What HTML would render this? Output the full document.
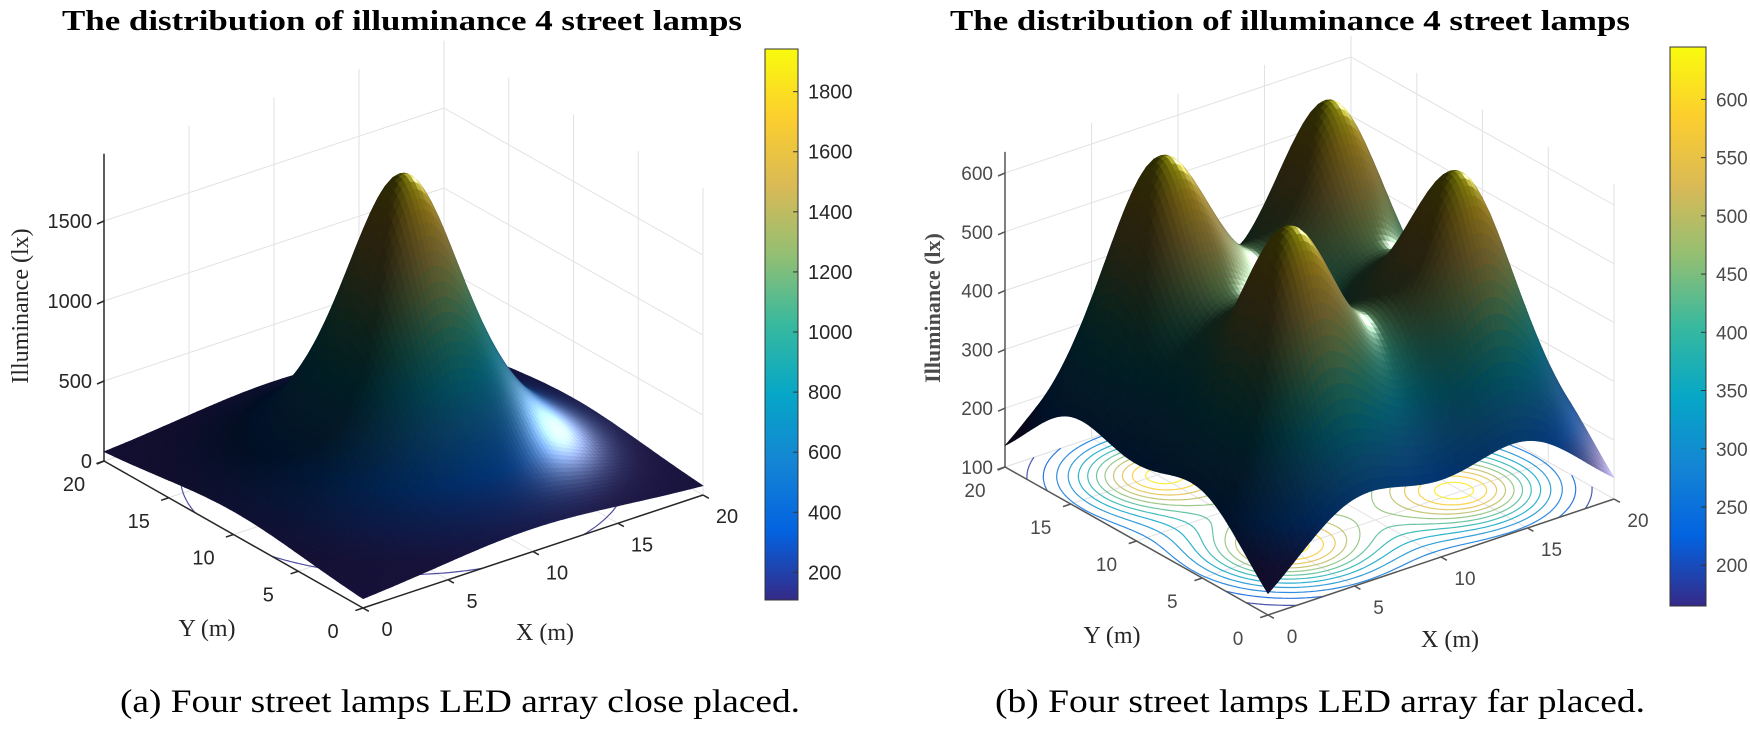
<!DOCTYPE html>
<html><head><meta charset="utf-8"><title>Illuminance distribution of 4 street lamps</title>
<style>
html,body{margin:0;padding:0;background:#fff;}
svg{display:block;}
.ttl{font-family:"Liberation Serif",serif;font-weight:bold;font-size:28px;fill:#000;}
.cap{font-family:"Liberation Serif",serif;font-size:33px;fill:#000;}
.tk{font-family:"Liberation Sans",sans-serif;font-size:20px;fill:#262626;}
.tk2{font-family:"Liberation Sans",sans-serif;font-size:19px;fill:#4a4a4a;}
.al{font-family:"Liberation Serif",serif;font-size:24px;fill:#262626;}
.al2{font-family:"Liberation Serif",serif;font-size:22px;font-weight:bold;fill:#4a4a4a;}
</style></head>
<body>
<svg id="fig" width="1750" height="732" viewBox="0 0 1750 732" xmlns="http://www.w3.org/2000/svg">
  <defs>
    <linearGradient id="parulaGrad" x1="0" y1="1" x2="0" y2="0">
      <stop offset="0" stop-color="#352A87"/>
      <stop offset="0.125" stop-color="#0363E1"/>
      <stop offset="0.25" stop-color="#1485D4"/>
      <stop offset="0.375" stop-color="#06A7C6"/>
      <stop offset="0.5" stop-color="#38B99E"/>
      <stop offset="0.625" stop-color="#92BF73"/>
      <stop offset="0.75" stop-color="#D9BA56"/>
      <stop offset="0.875" stop-color="#FCCE2E"/>
      <stop offset="1" stop-color="#F9FB0E"/>
    </linearGradient>
  </defs>
  <g id="chartA"></g>
  <g id="chartB"></g>
  <text class="ttl" x="62" y="30" textLength="680" lengthAdjust="spacingAndGlyphs">The distribution of illuminance 4 street lamps</text>
  <text class="ttl" x="950" y="30" textLength="680" lengthAdjust="spacingAndGlyphs">The distribution of illuminance 4 street lamps</text>
  <text class="cap" x="120" y="712" textLength="680" lengthAdjust="spacingAndGlyphs">(a) Four street lamps LED array close placed.</text>
  <text class="cap" x="995" y="712" textLength="650" lengthAdjust="spacingAndGlyphs">(b) Four street lamps LED array far placed.</text>
</svg>
<script>
// ---- data: left chart (close placed) ----
const leftLampX = [9.25, 10.75, 9.25, 10.75];
const leftLampY = [9.25, 9.25, 10.75, 10.75];
const leftLampPower = [515, 515, 515, 515];
const leftMountHeight = 4.5;
const leftZTicks = [0, 500, 1000, 1500];
const leftColorTicks = [200, 400, 600, 800, 1000, 1200, 1400, 1600, 1800];
const leftContourLevels = [130];
// ---- data: right chart (far placed) ----
const rightLampX = [5, 15, 5, 15];
const rightLampY = [5, 5, 15, 15];
const rightLampPower = [526, 526, 526, 526];
const rightMountHeight = 5;
const rightZTicks = [100, 200, 300, 400, 500, 600];
const rightColorTicks = [200, 250, 300, 350, 400, 450, 500, 550, 600];
const rightContourLevels = [180, 220, 260, 300, 340, 380, 420, 460, 500, 540, 580, 620];
// shared axes
const xyTicks = [0, 5, 10, 15, 20];

const NS = "http://www.w3.org/2000/svg";
const parulaStops = [[0,[53,42,135]],[0.125,[3,99,225]],[0.25,[20,133,212]],[0.375,[6,167,198]],[0.5,[56,185,158]],[0.625,[146,191,115]],[0.75,[217,186,86]],[0.875,[252,206,46]],[1,[249,251,14]]];
function parula(t){
  t = Math.max(0, Math.min(1, t));
  for (let i = 1; i < parulaStops.length; i++){
    if (t <= parulaStops[i][0]){
      const a = parulaStops[i-1], b = parulaStops[i];
      const f = (t - a[0]) / (b[0] - a[0]);
      return [0,1,2].map(k => a[1][k] + (b[1][k] - a[1][k]) * f);
    }
  }
  return parulaStops[parulaStops.length-1][1];
}
function mk(tag, parent){ const e = document.createElementNS(NS, tag); parent.appendChild(e); return e; }

function drawChart(cfg){
  const g = document.getElementById(cfg.gid);
  const P = (x, y, z) => [cfg.cx + x*cfg.ux[0] + y*cfg.uy[0], cfg.cy + x*cfg.ux[1] + y*cfg.uy[1] - (z - cfg.z0)*cfg.zpx];
  const illum = (x, y) => {
    let s = 0;
    for (let i = 0; i < cfg.lx.length; i++){
      const d2 = (x - cfg.lx[i])**2 + (y - cfg.ly[i])**2;
      s += cfg.lp[i] * Math.pow(cfg.h*cfg.h / (cfg.h*cfg.h + d2), 1.5);
    }
    return s;
  };
  const gridG = mk('g', g);
  
  
  const line = (a, b, col, w, name) => {
    const l = mk('line', gridG);
    
    
    l.setAttribute('x1', a[0]); l.setAttribute('y1', a[1]); l.setAttribute('x2', b[0]); l.setAttribute('y2', b[1]);
    l.setAttribute('stroke', col); l.setAttribute('stroke-width', w);
  };
  const gc = '#e2e2e2';
  xyTicks.forEach(t => {
    line(P(t,0,cfg.z0), P(t,20,cfg.z0), gc, 1, 'floor-grid-line');
    line(P(0,t,cfg.z0), P(20,t,cfg.z0), gc, 1, 'floor-grid-line');
    line(P(t,20,cfg.z0), P(t,20,cfg.zmax), gc, 1, 'wall-grid-line');
    line(P(20,t,cfg.z0), P(20,t,cfg.zmax), gc, 1, 'wall-grid-line');
  });
  cfg.zt.forEach(z => {
    line(P(0,20,z), P(20,20,z), gc, 1, 'wall-grid-line');
    line(P(20,20,z), P(20,0,z), gc, 1, 'wall-grid-line');
  });
  const N = 80, dx = 20 / N;
  const Z = [];
  for (let i = 0; i <= N; i++){ Z.push([]); for (let j = 0; j <= N; j++) Z[i].push(illum(i*dx, j*dx)); }
  const contG = mk('g', g);
  
  
  cfg.levels.forEach(lv => {
    let d = '';
    for (let i = 0; i < N; i++) for (let j = 0; j < N; j++){
      const v = [Z[i][j], Z[i+1][j], Z[i+1][j+1], Z[i][j+1]];
      const c = [[i,j],[i+1,j],[i+1,j+1],[i,j+1]];
      const pts = [];
      for (let k = 0; k < 4; k++){
        const a = v[k], b = v[(k+1)%4];
        if ((a - lv) * (b - lv) < 0){
          const f = (lv - a) / (b - a);
          const ca = c[k], cb = c[(k+1)%4];
          pts.push(P((ca[0] + (cb[0]-ca[0])*f)*dx, (ca[1] + (cb[1]-ca[1])*f)*dx, cfg.z0));
        }
      }
      for (let k = 0; k + 1 < pts.length; k += 2)
        d += 'M' + pts[k][0].toFixed(1) + ' ' + pts[k][1].toFixed(1) + 'L' + pts[k+1][0].toFixed(1) + ' ' + pts[k+1][1].toFixed(1);
    }
    const col = parula((lv - cfg.cmin) / (cfg.cmax - cfg.cmin)).map(Math.round);
    const p = mk('path', contG);
    
    
    p.setAttribute('d', d);
    p.setAttribute('fill', 'none');
    p.setAttribute('stroke', 'rgb(' + col.join(',') + ')');
    p.setAttribute('stroke-width', 1.2);
    p.setAttribute('stroke-opacity', 0.85);
  });
  const axG = mk('g', g);
  
  
  const ac = cfg.axisColor;
  const aline = (a, b, name) => {
    const l = mk('line', axG);
    
    
    l.setAttribute('x1', a[0]); l.setAttribute('y1', a[1]); l.setAttribute('x2', b[0]); l.setAttribute('y2', b[1]);
    l.setAttribute('stroke', ac); l.setAttribute('stroke-width', 1.5);
  };
  aline(P(0,20,cfg.z0), P(0,20,cfg.zmax), 'z-axis-line');
  aline(P(0,0,cfg.z0), P(0,20,cfg.z0), 'y-axis-line');
  aline(P(0,0,cfg.z0), P(20,0,cfg.z0), 'x-axis-line');
  const txt = (x, y, s, cls, anchor, name) => {
    const t = mk('text', axG);
    
    
    t.setAttribute('x', x); t.setAttribute('y', y);
    t.setAttribute('class', cls);
    t.setAttribute('text-anchor', anchor);
    t.textContent = s;
    return t;
  };
  cfg.zt.forEach(z => {
    const p = P(0,20,z);
    aline(p, [p[0]-7, p[1]+3], 'z-tick');
    txt(p[0]-12, p[1]+7, String(z), cfg.tkc, 'end', 'z-tick-label');
  });
  xyTicks.forEach(t => {
    const py = P(0,t,cfg.z0), px = P(t,0,cfg.z0);
    aline(py, P(-0.45,t,cfg.z0), 'y-tick');
    aline(px, P(t,-0.45,cfg.z0), 'x-tick');
    txt(py[0]-30, py[1]+30, String(t), cfg.tkc, 'middle', 'y-tick-label');
    txt(px[0]+24, px[1]+28, String(t), cfg.tkc, 'middle', 'x-tick-label');
  });
  const c0 = P(0,0,cfg.z0);
  txt(c0[0]-156, c0[1]+28, 'Y (m)', 'al', 'middle', 'y-axis-title');
  txt(c0[0]+182, c0[1]+32, 'X (m)', 'al', 'middle', 'x-axis-title');
  const zt = txt(0, 0, 'Illuminance (lx)', cfg.alc, 'middle', 'z-axis-title');
  zt.setAttribute('transform', 'translate(' + cfg.zlabX + ',' + cfg.zlabY + ') rotate(-90)');
  const surfG = mk('g', g);
  
  
  const L = [0.5, -0.6, 0.6]; const Ln = Math.hypot(...L); L.forEach((v,k)=>L[k]=v/Ln);
  const H = [0.55, -0.45, 0.7]; const Hn = Math.hypot(...H); H.forEach((v,k)=>H[k]=v/Hn);
  const s = cfg.zpx / 15;
  const cells = [];
  for (let i = 0; i < N; i++) for (let j = 0; j < N; j++) cells.push([i, j, -(cfg.ux[1]*(i+0.5) + cfg.uy[1]*(j+0.5))]);
  cells.sort((a, b) => b[2] - a[2]);
  cells.forEach(([i, j]) => {
    const z00 = Z[i][j], z10 = Z[i+1][j], z11 = Z[i+1][j+1], z01 = Z[i][j+1];
    const za = (z00+z10+z11+z01)/4;
    const gx = (z10 + z11 - z00 - z01) / (2*dx), gy = (z01 + z11 - z00 - z10) / (2*dx);
    let n = [-gx*s, -gy*s, 1]; const nn = Math.hypot(...n); n = n.map(v => v/nn);
    const dl = Math.max(0, n[0]*L[0] + n[1]*L[1] + n[2]*L[2]);
    const dh = Math.max(0, n[0]*H[0] + n[1]*H[1] + n[2]*H[2]);
    const base = parula((za - cfg.cmin) / (cfg.cmax - cfg.cmin));
    const f = 0.18 + 0.38*dl, sp = 235*Math.pow(dh, 22);
    const col = base.map(v => Math.min(255, Math.round(v*f + sp)));
    const pts = [P(i*dx,j*dx,z00), P((i+1)*dx,j*dx,z10), P((i+1)*dx,(j+1)*dx,z11), P(i*dx,(j+1)*dx,z01)];
    const poly = mk('polygon', surfG);
    
    
    poly.setAttribute('points', pts.map(p => p[0].toFixed(1)+','+p[1].toFixed(1)).join(' '));
    const cs = 'rgb(' + col.join(',') + ')';
    poly.setAttribute('fill', cs);
    poly.setAttribute('stroke', cs);
    poly.setAttribute('stroke-width', 0.6);
  });
  const cbG = mk('g', g);
  
  
  const r = mk('rect', cbG);
  
  
  r.setAttribute('x', cfg.cbx); r.setAttribute('y', cfg.cbt);
  r.setAttribute('width', cfg.cbw); r.setAttribute('height', cfg.cbb - cfg.cbt);
  r.setAttribute('fill', 'url(#parulaGrad)');
  r.setAttribute('stroke', '#333'); r.setAttribute('stroke-width', 1);
  cfg.ct.forEach(v => {
    const y = cfg.cbb - (v - cfg.cmin) / (cfg.cmax - cfg.cmin) * (cfg.cbb - cfg.cbt);
    const tl = mk('line', cbG);
    
    
    tl.setAttribute('x1', cfg.cbx + cfg.cbw - 5); tl.setAttribute('x2', cfg.cbx + cfg.cbw);
    tl.setAttribute('y1', y); tl.setAttribute('y2', y);
    tl.setAttribute('stroke', '#333');
    const t = mk('text', cbG);
    
    
    t.setAttribute('x', cfg.cbx + cfg.cbw + 10); t.setAttribute('y', y + 7);
    t.setAttribute('class', cfg.tkc);
    t.textContent = String(v);
  });
}

drawChart({gid:'chartA', lx:leftLampX, ly:leftLampY, lp:leftLampPower, h:leftMountHeight,
  cx:363, cy:608, ux:[17,-5.65], uy:[-12.95,-7.35], zpx:0.16, z0:0, zmax:1920,
  zt:leftZTicks, ct:leftColorTicks, levels:leftContourLevels, cmin:108, cmax:1942,
  cbx:765, cbw:33, cbt:49, cbb:600, tkc:'tk', alc:'al', axisColor:'#262626', zlabX:28, zlabY:306});
drawChart({gid:'chartB', lx:rightLampX, ly:rightLampY, lp:rightLampPower, h:rightMountHeight,
  cx:1268, cy:615, ux:[17.3,-5.8], uy:[-13.15,-7.4], zpx:0.588, z0:100, zmax:636,
  zt:rightZTicks, ct:rightColorTicks, levels:rightContourLevels, cmin:165, cmax:645,
  cbx:1670, cbw:36, cbt:47, cbb:606, tkc:'tk2', alc:'al2', axisColor:'#555', zlabX:940, zlabY:308});
</script>
</body></html>
